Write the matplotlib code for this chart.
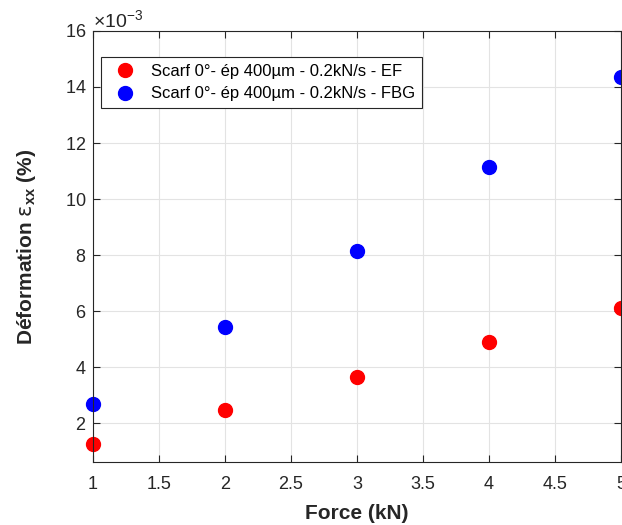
import matplotlib
matplotlib.use("Agg")
import matplotlib.pyplot as plt
from matplotlib.ticker import ScalarFormatter

plt.rcParams['font.family'] = ['Liberation Sans', 'DejaVu Sans']
plt.rcParams['mathtext.fontset'] = 'custom'
plt.rcParams['mathtext.rm'] = 'Liberation Sans'
plt.rcParams['mathtext.it'] = 'DejaVu Sans'
plt.rcParams['mathtext.bf'] = 'Liberation Sans:bold'

force = [1, 2, 3, 4, 5]
ef = [1.25e-3, 2.45e-3, 3.64e-3, 4.91e-3, 6.10e-3]
fbg = [2.67e-3, 5.42e-3, 8.14e-3, 11.16e-3, 14.35e-3]
labels = ["Scarf 0°- ép 400µm - 0.2kN/s - EF", "Scarf 0°- ép 400µm - 0.2kN/s - FBG"]
xticks = [1, 1.5, 2, 2.5, 3, 3.5, 4, 4.5, 5]
xticklabels = ['1', '1.5', '2', '2.5', '3', '3.5', '4', '4.5', '5']
yticks = [2e-3, 4e-3, 6e-3, 8e-3, 10e-3, 12e-3, 14e-3, 16e-3]

fig = plt.figure(figsize=(6.22, 5.25), dpi=100)
ax = fig.add_axes([0.1495, 0.12, 0.849, 0.821])

ax.plot(force, ef, 'o', color='#ff0000', markersize=10, label=labels[0], clip_on=False)
ax.plot(force, fbg, 'o', color='#0000ff', markersize=10, label=labels[1], clip_on=False)

ax.set_xlim(1, 5)
ax.set_ylim(0.61e-3, 16e-3)
ax.set_xticks(xticks)
ax.set_xticklabels(xticklabels)
ax.set_yticks(yticks)
fmt = ScalarFormatter(useMathText=True)
fmt.set_powerlimits((-3, -3))
ax.yaxis.set_major_formatter(fmt)
ax.yaxis.get_offset_text().set_fontsize(14)
ax.yaxis.get_offset_text().set_color('#262626')

ax.grid(True, color='#e3e3e3', linewidth=0.8)
ax.set_axisbelow(True)
ax.tick_params(direction='in', top=True, right=True, labelsize=13, colors='#262626', length=5)
ax.tick_params(axis='x', pad=10)
ax.tick_params(axis='y', pad=5)
for s in ax.spines.values():
    s.set_color('#262626')
    s.set_linewidth(0.8)

ax.set_xlabel('Force (kN)', fontsize=15, fontweight='bold', color='#262626', labelpad=8)
ax.set_ylabel(r'Déformation $\epsilon_{\mathbf{xx}}$ (%)', fontsize=15, fontweight='bold',
              color='#262626', labelpad=19)

leg = ax.legend(loc='upper left', bbox_to_anchor=(0.015, 0.94), borderaxespad=0, fontsize=12,
                frameon=True, fancybox=False, edgecolor='#262626', handletextpad=0.6,
                borderpad=0.42, labelspacing=0.45, handlelength=2.0, framealpha=1)
leg.get_frame().set_linewidth(0.8)

fig.savefig('out.png', dpi=100)
